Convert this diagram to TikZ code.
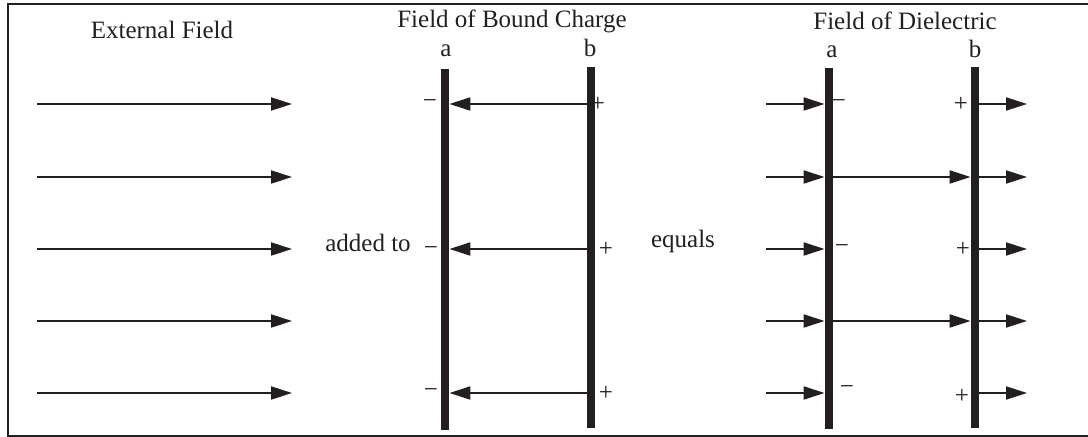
\documentclass[tikz,border=0pt]{standalone}
\usepackage{fontspec}
\setmainfont{Liberation Serif}
\usetikzlibrary{arrows.meta}
\definecolor{ink}{HTML}{231F20}

\begin{document}
\begin{tikzpicture}[x=0.5pt, y=-0.5pt,
    every node/.style={font=\fontsize{12.5}{15}\selectfont, text=ink, inner sep=0pt},
    fieldarrow/.style={draw=ink, line width=1pt, -{Triangle[length=10.5pt, width=6.5pt]}},
    plate/.style={fill=ink, minimum width=4pt, minimum height=180.5pt, inner sep=0pt},
    sign/.style={anchor=center}]

\useasboundingbox (0,0) rectangle (1088,437);

% Frame (open on the right)
\draw[ink, line width=1pt] (1088,4) -- (8,4) -- (8,436) -- (1088,436);

% Row heights
\foreach \i/\y in {1/104, 2/177, 3/249, 4/321, 5/393} {
    \coordinate (r\i) at (0,\y);
}

% Headings
\node[anchor=base] (exttitle) at (162,39) {External Field};
\node[anchor=base] (bndtitle) at (512,28) {Field of Bound Charge};
\node[anchor=base] (dieltitle) at (905,30) {Field of Dielectric};
\node[anchor=base] (bndla) at (446,57) {a};
\node[anchor=base] (bndlb) at (590,57) {b};
\node[anchor=base] (diella) at (832,58) {a};
\node[anchor=base] (diellb) at (975,58) {b};

% External field arrows
\foreach \i in {1,...,5} {
    \coordinate (es\i) at (37,0 |- r\i);
    \coordinate (ee\i) at (292,0 |- r\i);
    \draw[fieldarrow] (es\i) -- (ee\i);
}

% Bound charge plates
\node[plate] (ba) at (445,249.5) {};
\node[plate] (bb) at (591,248) {};
\foreach \i in {1,3,5} {
    \draw[fieldarrow] (bb.center |- r\i) -- (ba.east |- r\i);
}
\node[sign] (bm1) at (430,104) {−};
\node[sign] (bp1) at (598,104) {+};
\node[sign] (bm3) at (431,251) {−};
\node[sign] (bp3) at (606,249) {+};
\node[sign] (bm5) at (431,393) {−};
\node[sign] (bp5) at (606,393) {+};

% Words between the panels
\node[anchor=base] (addto) at (368,252) {added to};
\node[anchor=base] (eq) at (683,248) {equals};

% Dielectric plates
\node[plate] (da) at (829,248.5) {};
\node[plate] (db) at (975,247.5) {};
\foreach \i in {1,...,5} {
    \coordinate (ds\i) at (766,0 |- r\i);
    \coordinate (de\i) at (1027,0 |- r\i);
    \draw[fieldarrow] (ds\i) -- (da.west |- r\i);
    \draw[fieldarrow] (db.east |- r\i) -- (de\i);
}
\foreach \i in {2,4} {
    \draw[fieldarrow] (da.east |- r\i) -- (db.west |- r\i);
}
\node[sign] (dm1) at (839,104) {−};
\node[sign] (dp1) at (961,104) {+};
\node[sign] (dm3) at (842,249) {−};
\node[sign] (dp3) at (963,249) {+};
\node[sign] (dm5) at (847,390) {−};
\node[sign] (dp5) at (962,396) {+};

\end{tikzpicture}
\end{document}
